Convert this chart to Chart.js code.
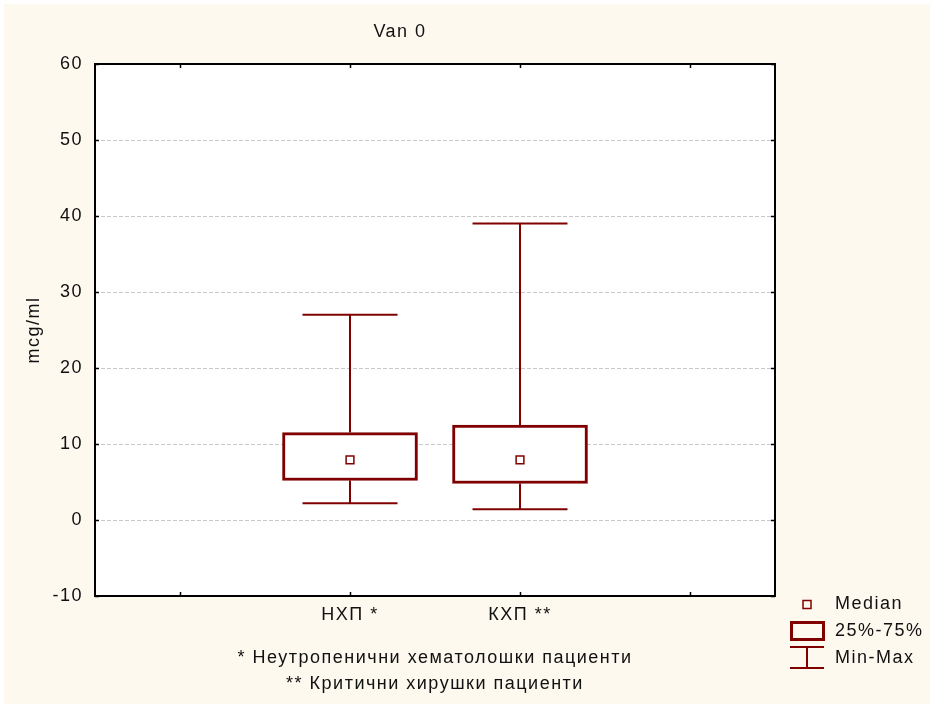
<!DOCTYPE html>
<html>
<head>
<meta charset="utf-8">
<title>Van 0</title>
<script src="https://cdn.jsdelivr.net/npm/chart.js@4.4.1/dist/chart.umd.min.js"></script>
<style>
  html, body { margin: 0; padding: 0; background: #ffffff; }
  canvas { display: block; }
</style>
</head>
<body>
<canvas id="boxChart" width="930" height="704"></canvas>
<script>
// categories on the x axis (outer two are empty slots)
const categories = ['', 'НХП *', 'КХП **', ''];

// box plot statistics, mcg/ml
const minValues    = [null, 2.2, 1.4, null];
const q1Values     = [null, 5.2, 4.8, null];
const medianValues = [null, 7.9, 7.9, null];
const q3Values     = [null, 11.5, 12.5, null];
const maxValues    = [null, 27, 39, null];

const yMin = -10;
const yMax = 60;
const yStep = 10;

const titleText = 'Van 0';
const yTitle = 'mcg/ml';
const footnotes = ['* Неутропенични хематолошки пациенти', '** Критични хирушки пациенти'];
const legendLabels = ['Median', '25%-75%', 'Min-Max'];

const dark = '#800000';
const fontFamily = 'Arial, "Liberation Sans", sans-serif';
const fontSize = 18;
const textColor = '#111111';

// background, frame, inward ticks, whiskers, title and legend
const decorations = {
    id: 'decorations',
    beforeDraw(chart) {
        const { ctx, chartArea } = chart;
        // the labels are set a little wider than plain Arial
        ctx.letterSpacing = '1.5px';
        ctx.save();
        ctx.fillStyle = '#ffffff';
        ctx.fillRect(0, 0, chart.width, chart.height);
        ctx.fillStyle = '#fdf9ef';
        ctx.fillRect(4, 4, chart.width - 4, chart.height - 4);
        ctx.fillStyle = '#ffffff';
        ctx.fillRect(chartArea.left, chartArea.top, chartArea.width, chartArea.height);
        ctx.restore();
    },
    afterDatasetsDraw(chart) {
        const { ctx, chartArea, scales } = chart;
        const x = scales.x, y = scales.y;
        ctx.save();

        // whiskers
        ctx.strokeStyle = dark;
        ctx.lineWidth = 2;
        const capHalf = 47.5;
        categories.forEach((c, i) => {
            if (maxValues[i] == null) return;
            const px = x.getPixelForValue(i);
            const pMax = y.getPixelForValue(maxValues[i]);
            const pQ3 = y.getPixelForValue(q3Values[i]);
            const pQ1 = y.getPixelForValue(q1Values[i]);
            const pMin = y.getPixelForValue(minValues[i]);
            ctx.beginPath();
            ctx.moveTo(px, pMax); ctx.lineTo(px, pQ3);
            ctx.moveTo(px, pQ1); ctx.lineTo(px, pMin);
            ctx.moveTo(px - capHalf, pMax); ctx.lineTo(px + capHalf, pMax);
            ctx.moveTo(px - capHalf, pMin); ctx.lineTo(px + capHalf, pMin);
            ctx.stroke();
        });

        // frame
        ctx.strokeStyle = '#000000';
        ctx.lineWidth = 2;
        ctx.strokeRect(chartArea.left, chartArea.top, chartArea.width, chartArea.height);

        // inward tick marks
        ctx.lineWidth = 1.5;
        ctx.beginPath();
        for (let v = yMin; v <= yMax; v += yStep) {
            const py = Math.round(y.getPixelForValue(v)) + 0.5;
            ctx.moveTo(chartArea.left, py); ctx.lineTo(chartArea.left + 4, py);
            ctx.moveTo(chartArea.right, py); ctx.lineTo(chartArea.right - 4, py);
        }
        categories.forEach((c, i) => {
            const px = Math.round(x.getPixelForValue(i)) + 0.5;
            ctx.moveTo(px, chartArea.top); ctx.lineTo(px, chartArea.top + 4);
            ctx.moveTo(px, chartArea.bottom); ctx.lineTo(px, chartArea.bottom - 4);
        });
        ctx.stroke();

        // title
        ctx.fillStyle = textColor;
        ctx.font = fontSize + 'px ' + fontFamily;
        ctx.textAlign = 'center';
        ctx.textBaseline = 'middle';
        ctx.fillText(titleText, 400, 32);

        // legend
        const lx = chartArea.right + 32;
        ctx.textAlign = 'left';
        ctx.fillText(legendLabels[0], lx + 28, 604);
        ctx.fillText(legendLabels[1], lx + 28, 631);
        ctx.fillText(legendLabels[2], lx + 28, 658);

        ctx.strokeStyle = dark;
        ctx.lineWidth = 1.5;
        ctx.strokeRect(lx - 4, 600.5, 8, 8);

        ctx.lineWidth = 3;
        ctx.strokeRect(lx - 15.5, 622.5, 32, 17);

        ctx.lineWidth = 2;
        ctx.beginPath();
        ctx.moveTo(lx - 17, 647); ctx.lineTo(lx + 17, 647);
        ctx.moveTo(lx, 647); ctx.lineTo(lx, 668);
        ctx.moveTo(lx - 17, 668); ctx.lineTo(lx + 17, 668);
        ctx.stroke();

        ctx.restore();
    }
};

const ctx = document.getElementById('boxChart').getContext('2d');
const chart = new Chart(ctx, {
    type: 'bar',
    data: {
        labels: categories,
        datasets: [
            {
                label: '25%-75%',
                data: q1Values.map((q1, i) => q1 == null ? null : [q1, q3Values[i]]),
                backgroundColor: '#ffffff',
                borderColor: dark,
                borderWidth: 3,
                borderSkipped: false,
                barThickness: 135,
                order: 2
            },
            {
                type: 'line',
                label: 'Median',
                data: medianValues,
                showLine: false,
                pointStyle: 'rect',
                pointRadius: 5.5,
                pointBorderWidth: 1.5,
                pointBorderColor: dark,
                pointBackgroundColor: '#ffffff',
                order: 1
            }
        ]
    },
    options: {
        responsive: false,
        animation: false,
        devicePixelRatio: 1,
        layout: {
            padding: { top: 64, right: 155, left: 0, bottom: 0 }
        },
        plugins: {
            legend: { display: false },
            tooltip: { enabled: false },
            title: { display: false }
        },
        scales: {
            x: {
                grid: { display: false, drawTicks: false },
                border: { display: false },
                ticks: {
                    color: textColor,
                    padding: 8,
                    maxRotation: 0,
                    font: { family: fontFamily, size: fontSize }
                },
                title: {
                    display: true,
                    text: footnotes,
                    color: textColor,
                    font: { family: fontFamily, size: fontSize, lineHeight: '26px' },
                    padding: { top: 0, bottom: 7 }
                },
                afterFit(scale) { scale.height = 108; }
            },
            y: {
                min: yMin,
                max: yMax,
                grid: { color: '#c8c8c8', lineWidth: 1, drawTicks: false },
                border: { display: false, dash: [4, 2] },
                ticks: {
                    stepSize: yStep,
                    color: textColor,
                    padding: 12,
                    font: { family: fontFamily, size: fontSize }
                },
                title: {
                    display: true,
                    text: yTitle,
                    color: textColor,
                    font: { family: fontFamily, size: fontSize },
                    padding: { top: 23, bottom: 0 }
                },
                afterFit(scale) { scale.width = 95; }
            }
        }
    },
    plugins: [decorations]
});
</script>
</body>
</html>
